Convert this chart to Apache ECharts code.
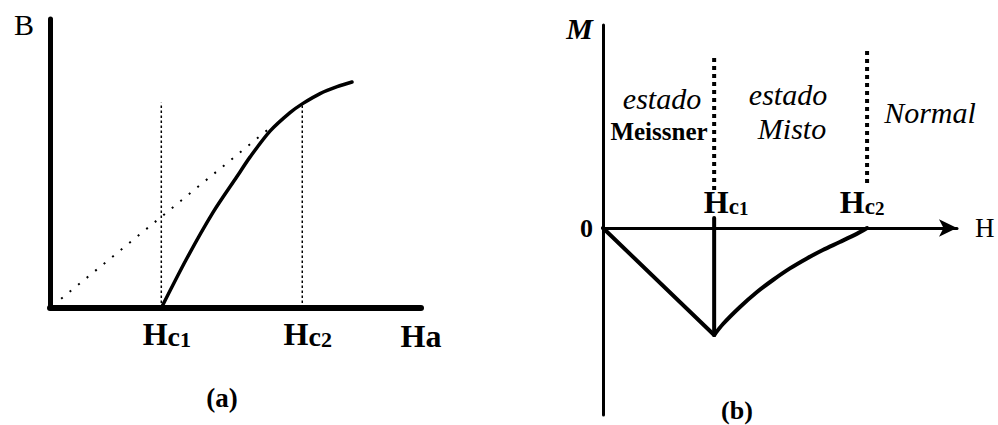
<!DOCTYPE html>
<html>
<head>
<meta charset="utf-8">
<script src="https://cdn.jsdelivr.net/npm/echarts@6/dist/echarts.min.js"></script>
<style>
  html, body { margin: 0; padding: 0; background: #fff; }
  #chart { width: 998px; height: 425px; }
</style>
</head>
<body>
<div id="chart"></div>
<script>
// ---- Panel (a): induction B against applied field Ha ----
const HC1_A = 3;
const HC2_A = 6.8;
const haCurve = [3, 3.69, 4.39, 5.04, 5.39, 5.93, 6.47, 6.82, 7.28, 7.74, 8.14];
const bCurve  = [0, 1.72, 3.3, 4.55, 5.22, 6.12, 6.76, 7.08, 7.42, 7.66, 7.82];
// straight B = mu0*H reference (dotted)
const haDiag = [0.3, 5.9];
const bDiag  = [0.32, 6.2];
// heights of the dashed markers at Hc1 and Hc2
const bMarkHc1 = 7.1;
const bMarkHc2 = 7.07;
const tickNamesA = ['1', '2'];

// ---- Panel (b): magnetisation M against H ----
const HC1_B = 3.14;
const HC2_B = 7.46;
const M_MIN = -5.35;
const hMisto = [3.14, 3.39, 3.87, 4.35, 4.80, 5.28, 5.76, 6.21, 6.69, 7.18, 7.46];
const mMisto = [-5.35, -4.8, -3.95, -3.2, -2.6, -2.02, -1.52, -1.1, -0.7, -0.28, 0];
const mDotHc1 = [1.9, 8.65];
const mDotHc2 = [2.25, 8.9];
const mSolidTopHc1 = 0.5;
const tickNamesB = ['1', '2'];

const SERIF = '"Liberation Serif", "Times New Roman", serif';
const zip = (xs, ys) => xs.map((x, i) => [x, ys[i]]);

function hcRich(h, c, s, subPad, lead) {
  return {
    h: { fontFamily: SERIF, fontWeight: 'bold', fontSize: h, color: '#000', verticalAlign: 'bottom', lineHeight: h, padding: [0, 0, 0, lead || 0] },
    c: { fontFamily: SERIF, fontWeight: 'bold', fontSize: c, color: '#000', verticalAlign: 'bottom', lineHeight: h },
    s: { fontFamily: SERIF, fontWeight: 'bold', fontSize: s, color: '#000', verticalAlign: 'bottom', lineHeight: h, padding: [subPad, 0, 0, 0] }
  };
}

function line(name, xi, data, width, type, smooth) {
  return {
    name, type: 'line', xAxisIndex: xi, yAxisIndex: xi,
    data, symbol: 'none', showSymbol: false, silent: true,
    smooth: smooth || false,
    lineStyle: { color: '#000', width, type: type || 'solid', cap: type && type !== 'solid' ? 'butt' : 'round' },
    z: 3
  };
}

const chart = echarts.init(document.getElementById('chart'), null, { renderer: 'svg' });

const baseAxis = {
  type: 'value',
  splitLine: { show: false },
  axisTick: { show: false }
};

// label shifts for the critical-field names of panel (b)
const hcLabelShiftB = [12, -5];

chart.setOption({
  animation: false,
  backgroundColor: '#fff',
  grid: [
    { left: 50, top: 19, width: 371, height: 289, outerBoundsMode: 'none' },
    { left: 603, top: 25, width: 354, height: 390, outerBoundsMode: 'none' }
  ],
  xAxis: [
    Object.assign({}, baseAxis, {
      gridIndex: 0, min: 0, max: 10,
      axisLine: { lineStyle: { color: '#000', width: 6 } },
      axisLabel: {
        customValues: [HC1_A, HC2_A],
        margin: 10,
        formatter: v => '{h|H}{c|c}{s|' + (v === HC1_A ? tickNamesA[0] : tickNamesA[1]) + '}',
        rich: hcRich(32, 28, 22, 5, 11)
      },
      name: 'Ha', nameLocation: 'end', nameGap: 0,
      nameTextStyle: { fontFamily: SERIF, fontWeight: 'bold', fontSize: 32, color: '#000', align: 'center', verticalAlign: 'top', padding: [12, 0, 0, 0] }
    }),
    Object.assign({}, baseAxis, {
      gridIndex: 1, min: 0, max: 10,
      axisLine: { onZero: true, symbol: ['none', 'arrow'], symbolSize: [13, 18], lineStyle: { color: '#000', width: 3 } },
      axisLabel: { show: false },
      name: 'H', nameLocation: 'end', nameGap: 18,
      nameTextStyle: { fontFamily: SERIF, fontSize: 27, color: '#000' }
    })
  ],
  yAxis: [
    Object.assign({}, baseAxis, {
      gridIndex: 0, min: 0, max: 10,
      axisLine: { lineStyle: { color: '#000', width: 5 } },
      axisLabel: { show: false },
      name: 'B', nameLocation: 'end', nameGap: 10,
      nameTextStyle: { fontFamily: SERIF, fontSize: 30, color: '#000', align: 'right', verticalAlign: 'top', padding: [0, 16, 0, 0] }
    }),
    Object.assign({}, baseAxis, {
      gridIndex: 1, min: -9.35, max: 10.15,
      axisLine: { lineStyle: { color: '#000', width: 3 } },
      axisLabel: {
        customValues: [0], margin: 10,
        formatter: () => '0',
        fontFamily: SERIF, fontWeight: 'bold', fontSize: 26, color: '#000'
      },
      name: 'M', nameLocation: 'end', nameGap: 12,
      nameTextStyle: { fontFamily: SERIF, fontStyle: 'italic', fontWeight: 'bold', fontSize: 30, color: '#000', align: 'right', verticalAlign: 'top', padding: [0, 10, 0, 0] }
    })
  ],
  series: [
    line('B(Ha)', 0, zip(haCurve, bCurve), 3.5, 'solid', 0.3),
    line('B = μ0 Ha', 0, zip(haDiag, bDiag), 2, [2, 9]),
    line('Hc1 (a)', 0, [[HC1_A, 0], [HC1_A, bMarkHc1]], 1.5, [2.5, 2.5]),
    line('Hc2 (a)', 0, [[HC2_A, 0], [HC2_A, bMarkHc2]], 1.5, [2.5, 2.5]),

    line('Meissner', 1, [[0, 0], [HC1_B, M_MIN]], 4),
    line('Misto', 1, zip(hMisto, mMisto), 4, 'solid', 0.3),
    line('Hc1 (b)', 1, [[HC1_B, M_MIN], [HC1_B, mSolidTopHc1]], 4),
    line('Hc1 dots', 1, [[HC1_B, mDotHc1[0]], [HC1_B, mDotHc1[1]]], 4, [4, 4]),
    line('Hc2 dots', 1, [[HC2_B, mDotHc2[0]], [HC2_B, mDotHc2[1]]], 4, [4, 4]),
    {
      name: 'critical fields', type: 'scatter', xAxisIndex: 1, yAxisIndex: 1,
      data: [HC1_B, HC2_B].map((h, i) => ({ value: [h, 0], label: { offset: [hcLabelShiftB[i], 0] } })),
      symbolSize: 0, silent: true, z: 5,
      itemStyle: { color: '#000', opacity: 1 },
      label: {
        show: true, position: 'top', distance: 10,
        color: '#000', opacity: 1, textBorderWidth: 0,
        formatter: p => '{h|H}{c|c}{s|' + tickNamesB[p.dataIndex] + '}',
        rich: hcRich(32, 23, 19, 4)
      }
    }
  ],
  graphic: [
    { type: 'text', x: 222, y: 398, style: { text: '(a)', fontFamily: SERIF, fontWeight: 'bold', fontSize: 27, fill: '#000', align: 'center', verticalAlign: 'middle' } },
    { type: 'text', x: 737, y: 410, style: { text: '(b)', fontFamily: SERIF, fontWeight: 'bold', fontSize: 26, fill: '#000', align: 'center', verticalAlign: 'middle' } },
    { type: 'text', x: 662, y: 98, style: { text: 'estado', fontFamily: SERIF, fontStyle: 'italic', fontSize: 30, fill: '#000', align: 'center', verticalAlign: 'middle' } },
    { type: 'text', x: 659, y: 131, style: { text: 'Meissner', fontFamily: SERIF, fontWeight: 'bold', fontSize: 25, fill: '#000', align: 'center', verticalAlign: 'middle' } },
    { type: 'text', x: 788, y: 94, style: { text: 'estado', fontFamily: SERIF, fontStyle: 'italic', fontSize: 30, fill: '#000', align: 'center', verticalAlign: 'middle' } },
    { type: 'text', x: 792, y: 128, style: { text: 'Misto', fontFamily: SERIF, fontStyle: 'italic', fontSize: 30, fill: '#000', align: 'center', verticalAlign: 'middle' } },
    { type: 'text', x: 930, y: 112, style: { text: 'Normal', fontFamily: SERIF, fontStyle: 'italic', fontSize: 30, fill: '#000', align: 'center', verticalAlign: 'middle' } }
  ]
});
</script>
</body>
</html>
